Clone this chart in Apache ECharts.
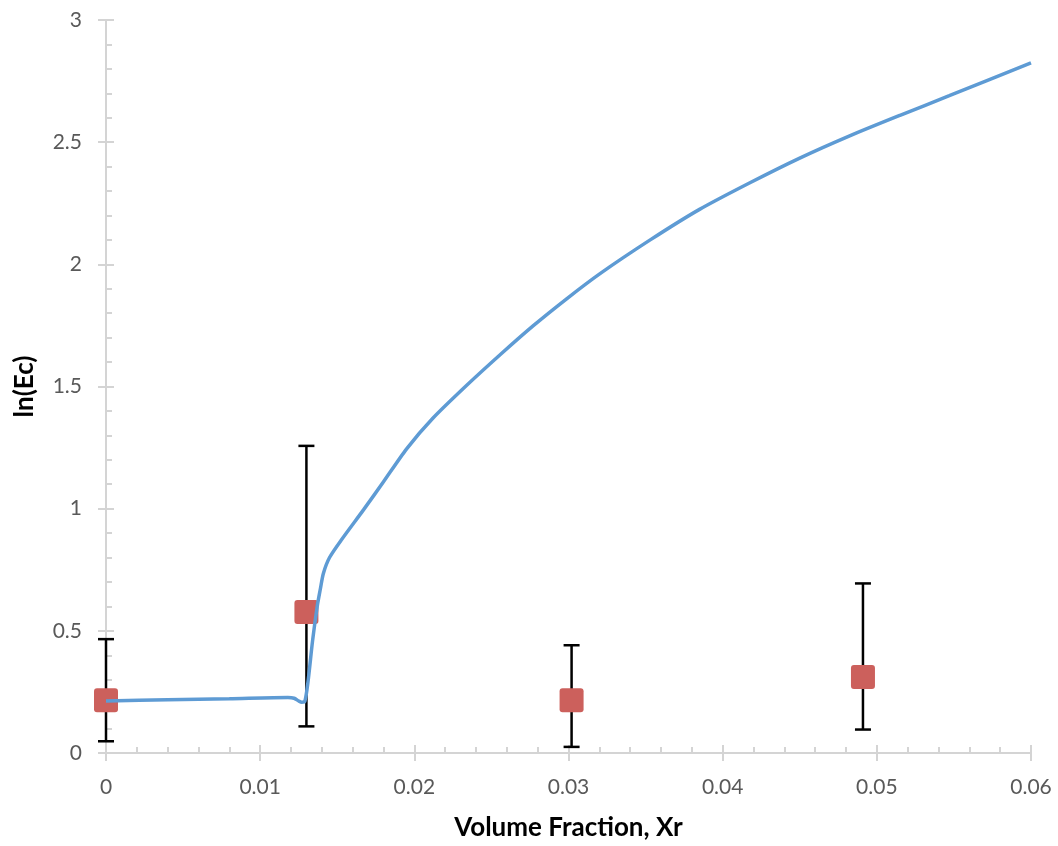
<!DOCTYPE html>
<html>
<head>
<meta charset="utf-8">
<script src="https://cdn.jsdelivr.net/npm/echarts@6/dist/echarts.min.js"></script>
<style>
  html, body { margin: 0; padding: 0; background: #fff; }
  #main { width: 1058px; height: 846px; }
</style>
</head>
<body>
<div id="main"></div>
<script>
// model curve
var curveX = [0, 0.004, 0.008, 0.0118, 0.0122, 0.0125, 0.0127, 0.0129, 0.0131, 0.0134, 0.0137, 0.0139, 0.0141, 0.0145,
              0.0153, 0.0167, 0.018, 0.0195, 0.0212, 0.0234, 0.0256, 0.0277, 0.0299, 0.032, 0.0353, 0.0385, 0.0418,
              0.045, 0.0482, 0.0515, 0.0547, 0.06];
var curveY = [0.213, 0.218, 0.222, 0.227, 0.224, 0.213, 0.208, 0.212, 0.29, 0.46, 0.6, 0.67, 0.735, 0.8,
              0.875, 0.995, 1.11, 1.245, 1.37, 1.505, 1.632, 1.748, 1.86, 1.96, 2.1, 2.225, 2.335,
              2.435, 2.525, 2.61, 2.69, 2.825];

// measured points with error bars
var pointX = [0, 0.0130, 0.0302, 0.0491];
var pointY = [0.216, 0.577, 0.216, 0.311];
var errLow = [0.048, 0.109, 0.025, 0.096];
var errHigh = [0.466, 1.257, 0.441, 0.694];

var axisGray = '#d4d4d4';
var labelGray = '#595959';
var fontName = 'Lato';

var chart = echarts.init(document.getElementById('main'));

var curveData = curveX.map(function (x, i) { return [x, curveY[i]]; });
var pointData = pointX.map(function (x, i) { return [x, pointY[i], errLow[i], errHigh[i]]; });

function renderErr(params, api) {
    var x = api.value(0);
    var mid = api.coord([x, api.value(1)]);
    var lo = api.coord([x, api.value(2)]);
    var hi = api.coord([x, api.value(3)]);
    var cap = 8, box = 12;
    var lineStyle = { stroke: '#000', lineWidth: 2.5 };
    return {
        type: 'group',
        children: [
            { type: 'line', shape: { x1: lo[0], y1: lo[1], x2: hi[0], y2: hi[1] }, style: lineStyle },
            { type: 'line', shape: { x1: lo[0] - cap, y1: lo[1], x2: lo[0] + cap, y2: lo[1] }, style: lineStyle },
            { type: 'line', shape: { x1: hi[0] - cap, y1: hi[1], x2: hi[0] + cap, y2: hi[1] }, style: lineStyle },
            { type: 'rect', shape: { x: mid[0] - box, y: mid[1] - box, width: box * 2, height: box * 2, r: 3 },
              style: { fill: '#cc605c' } }
        ]
    };
}

var baseX = {
    type: 'value', min: 0, max: 0.06, interval: 0.01,
    position: 'bottom',
    splitLine: { show: false },
    axisLine: { onZero: false, lineStyle: { color: axisGray, width: 2 } }
};
var baseY = {
    type: 'value', min: 0, max: 3, interval: 0.5,
    position: 'left',
    splitLine: { show: false },
    axisLine: { onZero: false, lineStyle: { color: axisGray, width: 2 } }
};

var option = {
    backgroundColor: '#fff',
    animation: false,
    grid: { left: 106, right: 27, top: 20, bottom: 93, containLabel: false },
    xAxis: [
        Object.assign({}, baseX, {
            name: 'Volume Fraction, Xr',
            nameLocation: 'middle',
            nameGap: 62,
            nameTextStyle: { color: '#000', fontFamily: fontName, fontWeight: 'bold', fontSize: 26 },
            axisTick: { show: true, inside: false, length: 8, lineStyle: { color: axisGray, width: 2 } },
            axisLabel: {
                color: labelGray, fontFamily: fontName, fontSize: 21, margin: 24,
                formatter: function (v) { return String(+v.toFixed(2)); }
            }
        }),
        Object.assign({}, baseX, {
            axisTick: { show: true, inside: true, length: 8, lineStyle: { color: axisGray, width: 2 } },
            minorTick: { show: true, splitNumber: 5, length: 6, lineStyle: { color: axisGray, width: 2 } },
            axisLabel: { show: false }
        })
    ],
    yAxis: [
        Object.assign({}, baseY, {
            name: 'ln(Ec)',
            nameLocation: 'middle',
            nameGap: 68,
            nameTextStyle: { color: '#000', fontFamily: fontName, fontWeight: 'bold', fontSize: 26 },
            axisTick: { show: true, inside: false, length: 8, lineStyle: { color: axisGray, width: 2 } },
            axisLabel: {
                color: labelGray, fontFamily: fontName, fontSize: 21, margin: 24,
                formatter: function (v) { return String(+v.toFixed(1)); }
            }
        }),
        Object.assign({}, baseY, {
            axisTick: { show: true, inside: true, length: 8, lineStyle: { color: axisGray, width: 2 } },
            minorTick: { show: true, splitNumber: 5, length: 6, lineStyle: { color: axisGray, width: 2 } },
            axisLabel: { show: false }
        })
    ],
    series: [
        {
            name: 'measured',
            type: 'custom',
            xAxisIndex: 0, yAxisIndex: 0,
            z: 2,
            renderItem: renderErr,
            encode: { x: 0, y: [1, 2, 3] },
            data: pointData
        },
        {
            name: 'model',
            type: 'line',
            xAxisIndex: 0, yAxisIndex: 0,
            z: 3,
            showSymbol: false,
            smooth: 0.25,
            lineStyle: { color: '#5e9bd4', width: 3.5 },
            data: curveData
        }
    ]
};

chart.setOption(option);
</script>
</body>
</html>
